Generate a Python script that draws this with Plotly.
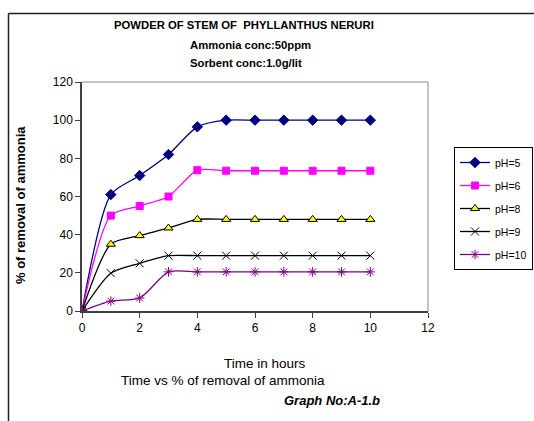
import plotly.graph_objects as go

time_h = [0, 1, 2, 3, 4, 5, 6, 7, 8, 9, 10]
ph5 = [0, 61, 71, 82, 96.5, 100, 100, 100, 100, 100, 100]
ph6 = [0, 50, 55, 60, 73.8, 73.5, 73.5, 73.5, 73.5, 73.5, 73.5]
ph8 = [0, 35, 39.5, 43.5, 48, 48, 48, 48, 48, 48, 48]
ph9 = [0, 19.8, 25, 29, 29, 29, 29, 29, 29, 29, 29]
ph10 = [0, 5.2, 6.8, 20.5, 20.5, 20.5, 20.5, 20.5, 20.5, 20.5, 20.5]

series = [
    ("pH=5", ph5, "#000080", "diamond", "#000080", 8),
    ("pH=6", ph6, "#FF00FF", "square", "#FF00FF", 7),
    ("pH=8", ph8, "#000000", "triangle-up", "#FFFF00", 8),
    ("pH=9", ph9, "#000000", "x-thin-open", "#000000", 8),
    ("pH=10", ph10, "#800080", "asterisk-open", "#800080", 8),
]

W, H = 534, 421
L, R, T, B = 82, 428, 82, 311
pw, ph = R - L, B - T


def px(x):
    return (x - L) / pw


def py(y):
    return (B - y) / ph


fig = go.Figure()
for i, (name, vals, lc, sym, fc, sz) in enumerate(series):
    fig.add_trace(go.Scatter(
        x=time_h, y=vals, name=name, mode="lines+markers",
        line=dict(color=lc, width=1.3, shape="spline", smoothing=0.7),
        marker=dict(symbol=sym, size=sz, color=fc,
                    line=dict(color=lc, width=1)),
        legendgroup=f"g{i}",
    ))

fnt = "Liberation Sans, Arial, sans-serif"
fig.update_layout(
    width=W, height=H,
    margin=dict(l=L, r=W - R, t=T, b=H - B, autoexpand=False),
    paper_bgcolor="white", plot_bgcolor="white",
    font=dict(family=fnt, size=11, color="black"),
    showlegend=True,
    legend=dict(x=px(533), y=py(147), xanchor="right", yanchor="top",
                bordercolor="black", borderwidth=1, bgcolor="white",
                font=dict(size=10.5, family=fnt), tracegroupgap=4,
                itemwidth=30),
    xaxis=dict(range=[0, 12], dtick=2, tick0=0, showgrid=False, zeroline=False,
               showline=True, linecolor="#404040", linewidth=1.5,
               ticks="outside", ticklen=5, tickcolor="#404040",
               tickfont=dict(size=12, family=fnt)),
    yaxis=dict(range=[0, 120], dtick=20, tick0=0, showgrid=False, zeroline=False,
               showline=True, linecolor="#404040", linewidth=1.5,
               ticks="outside", ticklen=5, tickcolor="#404040",
               tickfont=dict(size=12, family=fnt)),
)

shapes = [
    dict(type="line", xref="paper", yref="paper", x0=0, x1=1, y0=1, y1=1,
         line=dict(color="#B0B0B0", width=1.5)),
    dict(type="line", xref="paper", yref="paper", x0=1, x1=1, y0=0, y1=1,
         line=dict(color="#B0B0B0", width=1.5)),
    dict(type="line", xref="paper", yref="paper", x0=px(8.5), x1=px(534), y0=py(13.5), y1=py(13.5),
         line=dict(color="#202020", width=1.5)),
    dict(type="line", xref="paper", yref="paper", x0=px(8.5), x1=px(8.5), y0=py(13.5), y1=py(421),
         line=dict(color="#202020", width=1.5)),
]
fig.update_layout(shapes=shapes)

ann = [
    dict(text="<b>POWDER OF STEM OF  PHYLLANTHUS NERURI</b>", x=px(244), y=py(25), size=11.3),
    dict(text="<b>Ammonia conc:50ppm</b>", x=px(250), y=py(45), size=11.3),
    dict(text="<b>Sorbent conc:1.0g/lit</b>", x=px(246), y=py(63), size=11.3),
    dict(text="Time in hours", x=px(265), y=py(363), size=13.5),
    dict(text="Time vs % of removal of ammonia", x=px(223), y=py(380), size=13.5),
    dict(text="<b><i>Graph No:A-1.b</i></b>", x=px(332), y=py(400), size=13),
    dict(text="<b>% of removal of ammonia</b>", x=px(20), y=py(205), size=13, textangle=-90),
]
for a in ann:
    s = a.pop("size")
    a.update(xref="paper", yref="paper", showarrow=False, xanchor="center",
             yanchor="middle", font=dict(size=s, family=fnt, color="black"))
    fig.add_annotation(**a)

fig.write_html("out.html")
